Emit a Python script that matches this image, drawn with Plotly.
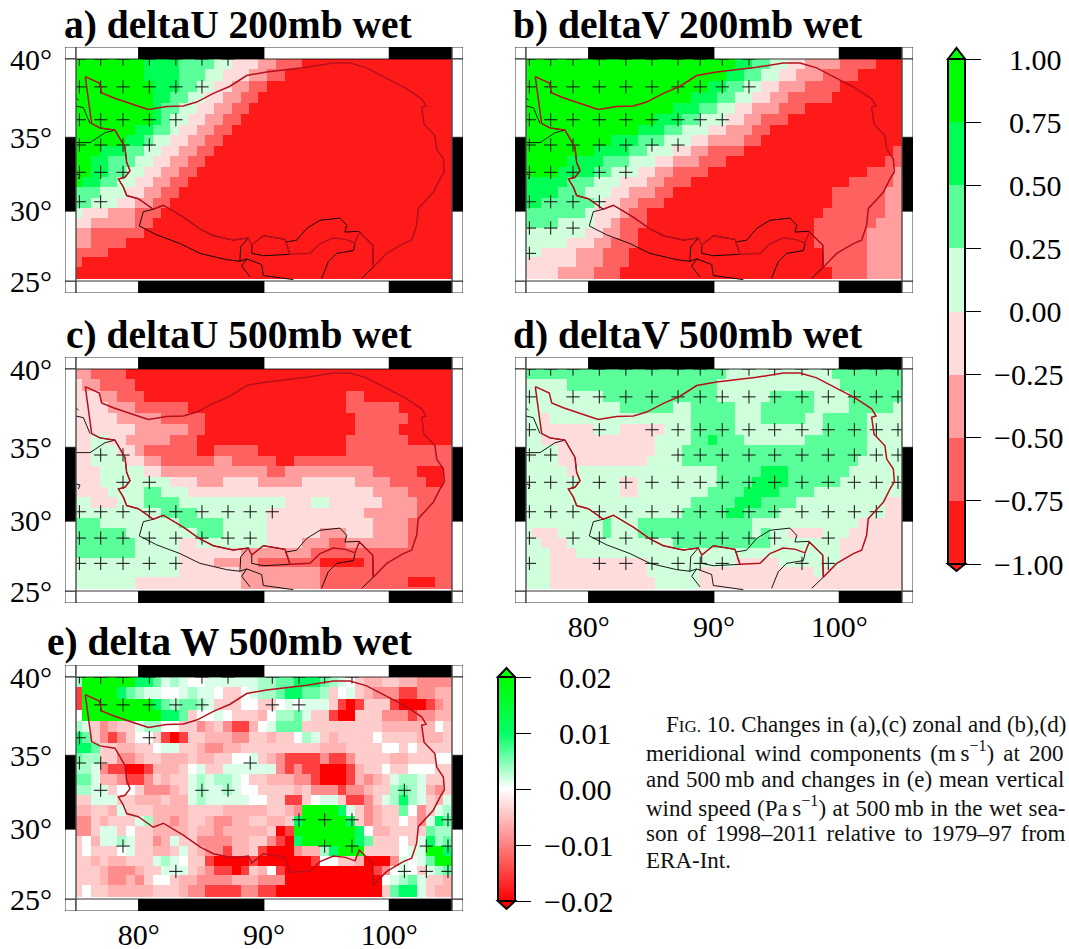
import math
import plotly.graph_objects as go

W, H = 1069, 949

# ---------- data ----------
# cell runs are "level:end_column"; level 0..7 are the eight colour bins
BIN_VALUES = [-0.875, -0.625, -0.375, -0.125, 0.125, 0.375, 0.625, 0.875]
E_VALUES = {"0": 0.0, "1": 0.0015, "2": 0.0035, "3": 0.006, "4": 0.01, "5": 0.02,
            "a": -0.004, "b": -0.006, "c": -0.009, "d": -0.015, "e": -0.02}

LON_EDGES = [75, 75.48] + [75.48 + 0.703125 * k for k in range(1, 42)] + [105]
LAT_EDGES = [40] + [39.35 - 0.7018 * k for k in range(21)] + [25.15]

DELTA_U_200 = [
    "7:8 6:12 5:16 4:18 3:21 2:23 1:26", "7:8 6:12 5:15 4:17 3:20 2:22 1:24",
    "7:9 6:12 5:14 4:16 3:18 2:20 1:22", "7:9 6:11 5:13 4:15 3:17 2:19 1:21",
    "7:9 6:10 5:12 4:14 3:16 2:18 1:20", "7:9 6:10 5:11 4:13 3:15 2:17 1:19",
    "7:7 6:9 5:11 4:12 3:14 2:16 1:18", "7:6 6:8 5:9 4:11 3:13 2:15 1:17",
    "7:3 6:6 5:8 4:10 3:12 2:14 1:16", "7:2 6:4 5:7 4:9 3:11 2:13 1:15",
    "7:2 6:4 5:6 4:8 3:10 2:12 1:14", "7:1 6:3 5:5 4:7 3:9 2:11 1:13",
    "5:3 4:6 3:8 2:10 1:12", "5:2 4:5 3:7 2:9 1:11", "4:1 3:4 2:7 1:10",
    "3:2 2:7 1:9", "2:2 1:8", "2:2 1:6", "1:4", "1:1", "", "",
]
DELTA_V_200 = [
    "7:24 6:26 5:28 4:30 3:32 2:36 1:40 0:43",
    "7:23 6:25 5:27 4:29 3:31 2:34 1:38 0:43",
    "7:21 6:23 5:25 4:27 3:29 2:32 1:36 0:43",
    "7:19 6:22 5:24 4:26 3:28 2:30 1:35 0:43",
    "7:17 6:20 5:22 4:24 3:26 2:29 1:32 0:43",
    "7:15 6:18 5:20 4:23 3:25 2:27 1:30 0:43",
    "7:13 6:16 5:18 4:21 3:23 2:26 1:28 0:43",
    "7:10 6:13 5:16 4:19 3:21 2:25 1:27 0:43",
    "7:8 6:12 5:14 4:17 3:19 2:21 1:25 0:42 1:43",
    "7:5 6:9 5:12 4:15 3:17 2:20 1:23 0:41 1:43",
    "7:4 6:8 5:10 4:13 3:15 2:17 1:21 0:39 1:42 2:43",
    "6:5 5:8 4:11 3:14 2:16 1:19 0:37 1:42 2:43",
    "6:4 5:7 4:10 3:12 2:15 1:17 0:35 1:41 2:43",
    "6:2 5:8 4:9 3:11 2:13 1:16 0:35 1:41 2:43",
    "5:7 4:8 3:11 2:12 1:14 0:34 1:41 2:43",
    "5:4 4:8 3:10 2:11 1:14 0:33 1:40 2:43",
    "4:7 3:9 2:11 1:13 0:33 1:39 2:43",
    "4:5 3:8 2:10 1:13 0:33 1:39 2:43",
    "4:2 3:6 2:9 1:12 0:34 1:39 2:43",
    "3:6 2:9 1:12 0:34 1:39 2:43",
    "3:4 2:8 1:11 0:35 1:39 2:43",
    "3:4 2:8 1:11 0:35 1:39 2:43",
]
DELTA_U_500 = [
    "2:2 1:6 0:43", "3:1 2:3 1:7 0:43", "3:3 2:5 1:8 0:31 1:33 0:43",
    "3:4 2:7 1:13 0:31 1:37 0:43", "3:5 2:10 1:15 0:32 1:38 0:43",
    "3:7 2:13 1:15 0:32 1:37 0:43", "3:2 4:4 3:6 2:11 1:14 0:31 1:38 0:43",
    "3:2 4:5 3:7 2:8 1:14 0:16 1:21 0:31 1:43",
    "3:2 4:6 3:8 2:10 1:16 2:18 1:23 0:25 1:43",
    "3:3 4:8 3:10 2:22 1:24 2:34 1:39 0:42 1:43",
    "3:3 4:11 3:14 2:17 3:21 2:26 3:32 2:36 1:40 0:42 1:43",
    "3:4 4:8 5:10 4:13 3:34 2:38 1:43",
    "4:2 3:5 4:8 5:12 4:24 3:27 4:29 3:35 2:39 1:43",
    "4:10 5:14 4:22 3:33 2:39 1:43", "5:3 4:12 5:17 4:22 3:34 2:38 1:43",
    "5:6 4:14 5:17 4:22 3:28 2:31 3:34 2:38 1:43",
    "5:7 4:12 3:14 4:22 3:26 2:29 1:31 2:38 1:43",
    "5:7 4:12 3:19 2:27 1:43", "4:12 3:16 2:21 1:28 0:33 1:43",
    "4:12 3:19 2:28 1:43", "4:7 3:19 2:28 1:38 0:41 1:43", "4:7 3:19 2:28 1:43",
]
DELTA_V_500 = [
    "5:23 4:35 5:43", "4:5 5:22 4:36 5:43", "4:9 5:22 4:28 5:33 4:37 5:43",
    "4:11 5:17 4:19 5:24 4:27 5:33 4:37 5:42 4:43",
    "4:2 3:3 4:19 5:24 4:27 5:32 4:34 5:39 4:43",
    "4:2 3:8 4:11 3:16 4:19 5:24 4:34 5:39 4:43",
    "4:2 3:15 4:19 5:21 6:22 5:25 4:32 5:39 4:43",
    "4:4 3:15 4:18 5:39 4:43", "4:4 3:14 4:18 5:38 4:43",
    "4:5 3:6 4:22 5:27 6:30 5:37 4:43", "4:11 3:13 4:22 5:26 6:30 5:36 4:43",
    "4:11 3:13 4:21 5:25 6:29 5:33 4:43", "4:19 5:24 6:27 5:31 4:41 3:43",
    "4:18 5:23 6:25 5:29 4:41 3:43", "4:9 5:10 4:13 5:26 4:38 3:43",
    "4:1 3:4 4:9 5:10 4:13 5:26 4:27 5:28 4:30 3:34 4:37 3:43",
    "4:2 3:5 4:17 5:28 4:36 3:43", "4:3 3:6 4:36 3:43",
    "4:3 3:14 4:24 3:29 4:36 3:43", "4:3 3:14 4:20 3:33 4:34 3:43",
    "4:3 3:15 4:20 3:43", "4:3 3:15 4:20 3:43",
]
# one character per cell: 0 white, 1-5 pale to pure green, a-e pale to pure red
DELTA_W_500 = [
    "2555555443121001111112233444321" "0abbaabbcccc",
    "d5555432110012" "110aa0122344" "332a01abcccddccbb",
    "d5555555543233" "21aaa00aa0" "10111aded" "aaadeeedcbb",
    "0555555555443a0010aaab0" "2231aa" "deeaaa" "cccdccbb",
    "21acbaa12200aacbacddb01333" "aaaaaaaaa" "bbbbbb" "0a",
    "43acdca00adedaabbbccaabaa021abaaaa0aaaabbba",
    "443aabbaa011aabccbbaaaaaaaaabbbaaaa00a0aaaa",
    "322aaccbaabbbabbaa001abcddddcddcaaaabbaaa00",
    "221cddeedbbba01aa111111cdcddeeedbaa0aa000aa",
    "331bbcddcabaa1212210aabbbccdeeedbcba1221aaa",
    "2211a00acccba12112100aaaabacccdccbaa2321bca",
    "aa111aabbbabb121111100aadda011addca12421ab1",
    "bbaab1aaabbbbaaaabbbbbaabc55554" "1acbaa30ca12",
    "ccabaaa12bbcbaabccbbaabba4555554acbaa0ac143",
    "cca11a0aabbbbabbcbbbbbaed55555554" "0bbaaaa322",
    "a0b1121aacb1aaccccbbaacde4555555" "43aaa0a1423",
    "a0aaa01aabba1abccdbbadeeecbb24555aaaa011554",
    "aababbaaa1210aadeeeedeeeeeed00aabeeec101355",
    "aaabcccbaa111abcddedab0deeeeeeeeeedc010a123",
    "aaabccbca00abbccccbbbccceeeeeeeeeee01231aab",
    "a0aabbbbbaaabccddddccddeeeeeeeeeeeea3441abb",
    "a0aabbbbbaaabccddddccddeeeeeeeeeeeea3441abb",
]

# plus-sign grid (significant cells); columns index CROSS_LONS, list position indexes CROSS_LATS
CROSS_LONS = [75.27, 76.97, 78.75, 80.85, 82.97, 85.05, 87.13, 88.9, 90.66, 92.79,
              94.84, 97.02, 99.12, 101.2, 102.95, 104.68]
CROSS_LATS = [40.0, 38.26, 36.15, 34.49, 32.66, 30.64, 28.8, 27.0]
CROSS_A = [[0,1,2,3,4,5,6],[0,1,2,3,4,5],[0,1,2,3,4],[0,1,2,3],[0,1,2],[0,1],[],[]]
CROSS_B = [list(range(10)),list(range(10)),list(range(9)),list(range(7)),list(range(5)),
           list(range(4)),list(range(3)),[0]]
CROSS_C = [[],[],[],[1,2],[2,3],list(range(9)),list(range(8)),list(range(5))]
CROSS_D = [list(range(16)),[0]+list(range(2,16)),[0,3]+list(range(5,16)),[0,1]+list(range(6,16)),
           list(range(16)),list(range(15)),[0,2,3,4,5,6,7,8,9,10,12],[0,3,4,5,6,7,8,11,12]]
CROSS_E = [[0,1,2,3,5,6,8,9,10,11],[1,2,3,4,5,8,9],[0,3],[0,1,7],[1,5,6,13],[9,10,11,15],
           [2,10,11,14,15],[4,13,14,15]]

# Tibetan Plateau outline
TP_LON = [75.74,76.86,77.05,77.98,79.57,80.77,82.23,83.56,84.63,85.96,87.29,88.62,90.21,91.81,93.4,
          95.53,96.86,98.19,99.79,101.25,102.58,102.93,102.58,102.77,103.64,103.78,104.31,104.39,104.04,
          103.51,102.31,102.18,101.78,101.12,99.79,98.72,98.67,97.6,97.26,96.5,95.53,94.47,93.67,92.07,91.68,
          89.95,89.02,88.75,87.55,85.96,84.89,83.56,81.97,81.17,79.97,79.04,78.78,78.38,78.91,79.31,79.04,
          78.91,78.11,76.91,76.25,75.74]
TP_LAT = [38.9,38.5,37.88,37.57,37.14,36.82,37.0,37.04,37.29,37.85,38.3,38.97,39.2,39.35,39.49,
          39.75,39.75,39.45,38.82,38.2,37.5,37.04,36.95,35.86,35.1,34.22,33.55,32.7,32.2,
          31.3,30.16,29.0,27.94,27.7,27.0,26.0,27.6,28.52,27.75,28.0,28.1,27.7,27.0,26.93,28.0,
          28.26,27.6,28.1,27.95,28.26,28.74,29.57,30.4,30.12,30.85,31.07,31.65,32.2,32.32,32.77,33.33,
          34.33,35.47,35.62,35.9,38.9]
# National borders, segments separated by None
BORDER_LON = [76.25,76.91,78.11,78.91,79.04,79.31,78.91,78.38,78.78,79.04,79.97,81.17,81.97,83.56,84.89,85.96,87.55,88.75,None,
              81.17,80.37,80.05,81.44,83.3,84.89,87.02,88.08,88.14,88.75,None,
              89.02,89.02,89.95,92.07,91.68,89.95,89.02,None,
              91.68,92.6,93.4,94.47,96.06,96.6,96.46,97.6,98.67,98.72,97.8,None,
              97.26,97.13,95.8,95.13,94.6,None,
              88.08,88.62,88.22,88.88,None,88.62,89.81,89.95,92.34,None,
              75,75.59,76.12,None,75,76.12,77.31,78.11,None,75,75.21,None,75,75.32,75.19]
BORDER_LAT = [35.9,35.62,35.47,34.33,33.33,32.77,32.32,32.2,31.65,31.07,30.85,30.12,30.4,29.57,28.74,28.26,27.95,28.1,None,
              30.12,29.95,28.95,28.32,27.7,27.0,26.55,26.43,27.47,28.1,None,
              27.6,27.0,26.83,26.93,28.0,28.26,27.6,None,
              27.8,27.94,28.77,29.35,29.5,29.0,28.52,28.57,27.6,26.0,25.2,None,
              27.7,27.2,27.0,26.4,25.2,None,
              26.43,26.6,26.08,25.3,None,26.6,26.2,25.4,25.1,None,
              37.04,36.93,35.9,None,34.65,34.65,35.3,35.47,None,37.57,37.4,None,32.55,32.48,32.2]

LON_TICKS = [80, 90, 100]
LON_LABELS = ["80°", "90°", "100°"]
LAT_TICKS = [40, 35, 30, 25]
LAT_LABELS = ["40°", "35°", "30°", "25°"]
CB1_TICKS = [1, 0.75, 0.5, 0.25, 0, -0.25, -0.5, -0.75, -1]
CB1_LABELS = ["1.00", "0.75", "0.50", "0.25", "0.00", "−0.25", "−0.50", "−0.75", "−1.00"]
CB2_TICKS = [0.02, 0.01, 0, -0.01, -0.02]
CB2_LABELS = ["0.02", "0.01", "0.00", "−0.01", "−0.02"]
BIN_COLORS = ["#ff1a1a", "#ff6060", "#ff9e9e", "#ffdcdc", "#d0ffdc", "#5aff9a", "#00ff55", "#00ff00"]
TITLES = ["a) deltaU 200mb wet", "b) deltaV 200mb wet", "c) deltaU 500mb wet", "d) deltaV 500mb wet", "e) delta W 500mb wet"]
CAPTION = [
    ('F<span style="font-size:17px">IG.</span> 10. Changes in (a),(c) zonal and (b),(d)', 664, 0),
    ('meridional wind components (m\u2009s<sup>−1</sup>) at 200', 644, 3.4),
    ('and 500\u2009mb and changes in (e) mean vertical', 644, 1.0),
    ('wind speed (Pa\u2009s<sup>−1</sup>) at 500\u2009mb in the wet sea-', 644, 0.6),
    ('son of 1998–2011 relative to 1979–97 from', 644, 3.2),
    ('ERA-Int.', 644, 0),
]
CAPTION_Y = [724, 751, 779, 806, 833, 860]

# ---------- helpers ----------
def merc(lat):
    return math.log(math.tan(math.pi / 4 + math.radians(lat) / 2))

def merc_list(lats):
    return [None if v is None else merc(v) for v in lats]

def runs(rows):
    out = []
    for row in rows:
        cells, start = [], 0
        for tok in row.split():
            lev, end = tok.split(":")
            cells += [BIN_VALUES[int(lev)]] * (int(end) - start)
            start = int(end)
        cells += [BIN_VALUES[0]] * (43 - len(cells))
        out.append(cells[:43])
    return out

def symbols(rows):
    out = []
    for row in rows:
        cells = [E_VALUES[c] for c in row][:43]
        cells += [cells[-1]] * (43 - len(cells))
        out.append(cells)
    return out

def stepped(colors):
    n = len(colors)
    scale = []
    for i, c in enumerate(colors):
        scale += [[i / n, c], [(i + 1) / n, c]]
    return scale

SERIF = "Liberation Serif"
TICK_FONT = dict(family=SERIF, size=30, color="black")
GRAD = [[0, "#ff0000"], [0.25, "#ff8080"], [0.5, "#ffffff"], [0.75, "#00ff66"], [1, "#00ff00"]]

XR = [75 - 11 / 12.53, 105 + 11 / 12.53]
YPX = 222 / (merc(40) - merc(25))
YR = [merc(25) - 12 / YPX, merc(40) + 12 / YPX]

PANELS = [
    dict(z=runs(DELTA_U_200), cross=CROSS_A, left=65, top=47, ylab=True, xlab=False),
    dict(z=runs(DELTA_V_200), cross=CROSS_B, left=515, top=47, ylab=False, xlab=False),
    dict(z=runs(DELTA_U_500), cross=CROSS_C, left=65, top=357, ylab=True, xlab=False),
    dict(z=runs(DELTA_V_500), cross=CROSS_D, left=515, top=357, ylab=False, xlab=True),
    dict(z=symbols(DELTA_W_500), cross=CROSS_E, left=65, top=665, ylab=True, xlab=True),
]
TITLE_Y = [25, 25, 335, 335, 642]
TITLE_X = [414, 864, 414, 864, 414]

fig = go.Figure()
shapes, annotations = [], []
y_edges = merc_list(LAT_EDGES)[::-1]

def cbar(x, ytop, length, vals, labels):
    return dict(thicknessmode="pixels", thickness=17, lenmode="pixels", len=length, x=x / W, xanchor="left",
                y=1 - ytop / H, yanchor="top", xpad=0, ypad=0, outlinewidth=2, outlinecolor="black",
                tickmode="array", tickvals=vals,
                ticktext=["\u00a0\u2007" + t if t[0] != "−" else "\u00a0" + t for t in labels],
                ticks="outside", ticklen=15, tickwidth=1, tickcolor="black", tickfont=TICK_FONT)

for i, p in enumerate(PANELS):
    n = i + 1
    xa, ya = f"x{n}", f"y{n}"
    common = dict(x=LON_EDGES, y=y_edges, z=p["z"][::-1], xaxis=xa, yaxis=ya, hoverinfo="skip")
    if i == 4:
        tr = go.Heatmap(colorscale=GRAD, zmin=-0.02, zmax=0.02, showscale=True,
                        colorbar=cbar(498, 677, 224, CB2_TICKS, CB2_LABELS), **common)
    elif i == 0:
        tr = go.Heatmap(colorscale=stepped(BIN_COLORS), zmin=-1, zmax=1, showscale=True,
                        colorbar=cbar(948, 59, 505, CB1_TICKS, CB1_LABELS), **common)
    else:
        tr = go.Heatmap(colorscale=stepped(BIN_COLORS), zmin=-1, zmax=1, showscale=False, **common)
    fig.add_trace(tr)
    cx, cy = [], []
    for j, cols in enumerate(p["cross"]):
        for c in cols:
            cx.append(CROSS_LONS[c])
            cy.append(merc(CROSS_LATS[j]))
    fig.add_trace(go.Scatter(x=cx, y=cy, xaxis=xa, yaxis=ya, mode="markers", hoverinfo="skip", showlegend=False,
                             marker=dict(symbol="cross-thin", size=9.5, line=dict(width=1, color="#111111"))))
    if i != 4:  # panel e shows the plateau outline only
        fig.add_trace(go.Scatter(x=BORDER_LON, y=merc_list(BORDER_LAT), xaxis=xa, yaxis=ya, mode="lines", hoverinfo="skip",
                                 showlegend=False, line=dict(color="black", width=0.9)))
    fig.add_trace(go.Scatter(x=TP_LON, y=merc_list(TP_LAT), xaxis=xa, yaxis=ya, mode="lines", hoverinfo="skip",
                             showlegend=False, line=dict(color="#b5101c", width=1.5)))
    x0, x1 = p["left"], p["left"] + 398
    y0, y1 = p["top"], p["top"] + 246
    ax = "" if n == 1 else str(n)
    fig.update_layout({
        f"xaxis{ax}": dict(domain=[x0 / W, x1 / W], range=XR, anchor=ya, showgrid=False, zeroline=False, showline=False,
                           automargin=False, showticklabels=p["xlab"], tickmode="array", tickvals=LON_TICKS,
                           ticktext=LON_LABELS, ticks="", tickfont=TICK_FONT, ticklabelstandoff=3),
        f"yaxis{ax}": dict(domain=[1 - y1 / H, 1 - y0 / H], range=YR, anchor=xa, showgrid=False, zeroline=False, showline=False,
                           automargin=False, showticklabels=p["ylab"], tickmode="array", tickvals=[merc(v) for v in LAT_TICKS],
                           ticktext=LAT_LABELS, ticks="", tickfont=TICK_FONT, ticklabelstandoff=12),
    })
    # map frame bands, in lon / lat
    def rect(a, b, c, d, color):
        shapes.append(dict(type="rect", xref=xa, yref=ya, x0=a, x1=b, y0=c, y1=d, fillcolor=color, layer="above",
                           line=dict(color="black", width=0.8)))
    mt, mb = merc(40), merc(25)
    for a, b, col in [(XR[0], 75, "white"), (75, 80, "white"), (80, 90, "black"), (90, 100, "white"), (100, 105, "black"), (105, XR[1], "white")]:
        rect(a, b, mt, YR[1], col)
        rect(a, b, YR[0], mb, col)
    for la, lb, col in [(25, 30, "white"), (30, 35, "black"), (35, 40, "white")]:
        rect(XR[0], 75, merc(la), merc(lb), col)
        rect(105, XR[1], merc(la), merc(lb), col)
    for lon in (75, 105):
        shapes.append(dict(type="line", xref=xa, yref=ya, x0=lon, x1=lon, y0=YR[0], y1=YR[1], layer="above",
                           line=dict(color="#666666", width=1)))
    annotations.append(dict(text=f"<b>{TITLES[i]}</b>", xref="paper", yref="paper", x=TITLE_X[i] / W, y=1 - TITLE_Y[i] / H,
                            xanchor="right", yanchor="middle", showarrow=False, font=dict(family=SERIF, size=39.5, color="black")))

# colour-bar end triangles
def tri(xl, xr, ybase, ytip, color):
    xm = (xl + xr) / 2
    path = f"M {xl/W} {1-ybase/H} L {xm/W} {1-ytip/H} L {xr/W} {1-ybase/H} Z"
    shapes.append(dict(type="path", xref="paper", yref="paper", path=path, fillcolor=color, line=dict(color="black", width=2)))
tri(948, 965, 59, 48, "#00ff00")
tri(948, 965, 564, 571, "#ff1a1a")
tri(498, 515, 677, 668, "#00ff00")
tri(498, 515, 901, 909, "#ff0000")

for (txt, xp, ws), yp in zip(CAPTION, CAPTION_Y):
    annotations.append(dict(text=f'<span style="word-spacing:{ws}px">{txt}</span>', xref="paper", yref="paper",
                            x=xp / W, y=1 - yp / H, xanchor="left", yanchor="middle",
                            showarrow=False, align="left", font=dict(family=SERIF, size=23, color="#111111")))

fig.update_layout(width=W, height=H, margin=dict(l=0, r=0, t=0, b=0, autoexpand=False), paper_bgcolor="white", plot_bgcolor="white",
                  showlegend=False, shapes=shapes, annotations=annotations)
fig.write_html("out.html", config={"displayModeBar": False},
               post_script="document.body.style.margin='0';document.body.style.overflow='hidden';")
